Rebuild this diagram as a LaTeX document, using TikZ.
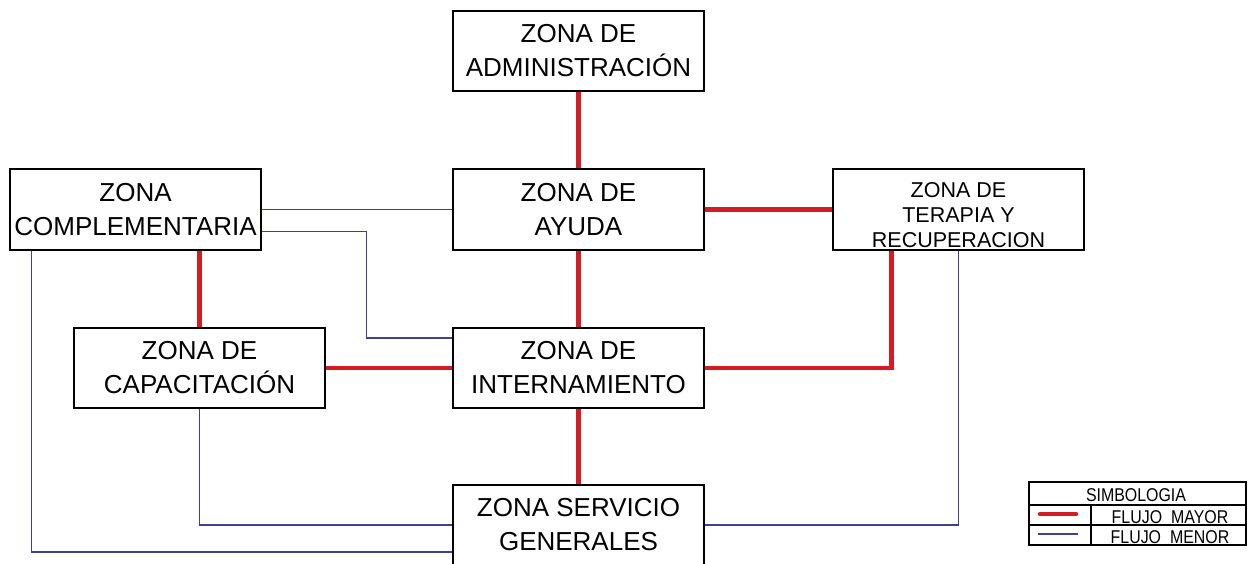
\documentclass[tikz,border=0pt]{standalone}
\usepackage{fontspec}
\setmainfont{Liberation Sans}
\newfontfamily\legfont[FakeStretch=0.86]{Liberation Sans}
\definecolor{flujored}{RGB}{212,28,34}
\definecolor{flujoblue}{RGB}{66,64,140}
\begin{document}
\begin{tikzpicture}[x=1pt,y=-1pt,
  zone/.style={draw=black, line width=1.2pt, minimum width=251pt, minimum height=80pt,
    inner sep=0pt, align=center, font=\fontsize{26}{34}\selectfont},
  smalltext/.style={inner sep=0pt, align=center, font=\fontsize{21.5}{25}\selectfont},
  mayor/.style={draw=flujored, line width=4.5pt},
  menor/.style={draw=flujoblue, line width=1.4pt},
  legtext/.style={inner sep=0pt, font=\legfont\fontsize{18.5}{20}\selectfont, anchor=base}
]
\useasboundingbox (0,0) rectangle (1249,563);
\fill[white] (0,0) rectangle (1249,563);

% zones
\node[zone] (adm) at (578.5,51) {ZONA DE\\ADMINISTRACIÓN};
\node[zone, minimum height=81pt] (ayu) at (578.5,209.5) {ZONA DE\\AYUDA};
\node[zone, minimum height=81pt,
  label={[smalltext, yshift=-6pt]center:ZONA DE\\TERAPIA Y\\RECUPERACION}] (ter) at (958.5,209.5) {};
\node[zone, minimum height=81pt] (com) at (135.5,209.5) {ZONA\\COMPLEMENTARIA};
\node[zone] (cap) at (199.5,368) {ZONA DE\\CAPACITACIÓN};
\node[zone] (int) at (578.5,368) {ZONA DE\\INTERNAMIENTO};
\node[zone] (ser) at (578.5,525) {ZONA SERVICIO\\GENERALES};

% flujo menor
\begin{scope}[menor]
\draw (com.east) -- (ayu.west);
\draw ([yshift=-22pt]com.east) -- ++(105,0) |- ([yshift=30pt]int.west);
\draw ([xshift=22pt]com.south west) |- ([yshift=-27pt]ser.west);
\draw (cap.south) |- (ser.west);
\draw (ter.south) |- (ser.east);
\end{scope}

% flujo mayor
\begin{scope}[mayor]
\draw (adm.south) -- (ayu.north);
\draw (ayu.east) -- (ter.west);
\draw (ayu.south) -- (int.north);
\draw (cap.north |- com.south) -- (cap.north);
\draw (cap.east) -- (int.west);
\draw (int.east) -| ([xshift=59pt]ter.south west);
\draw (int.south) -- (ser.north);
\end{scope}

% legend
\begin{scope}[line width=1.1pt]
\draw (1029,482) rectangle (1246,545);
\draw (1029,505) -- (1246,505);
\draw (1029,525) -- (1246,525);
\draw (1091,505) -- (1091,545);
\end{scope}
\draw[flujored, line width=4.5pt, line cap=round] (1040,514) -- (1076,514);
\draw[menor] (1038,534) -- (1078,534);
\node[legtext] (ltitle) at (1136,501) {SIMBOLOGIA};
\node[legtext] (lmayor) at (1170,523.5) {FLUJO\hspace{9pt}MAYOR};
\node[legtext] (lmenor) at (1170,543.5) {FLUJO\hspace{9pt}MENOR};
\end{tikzpicture}
\end{document}
